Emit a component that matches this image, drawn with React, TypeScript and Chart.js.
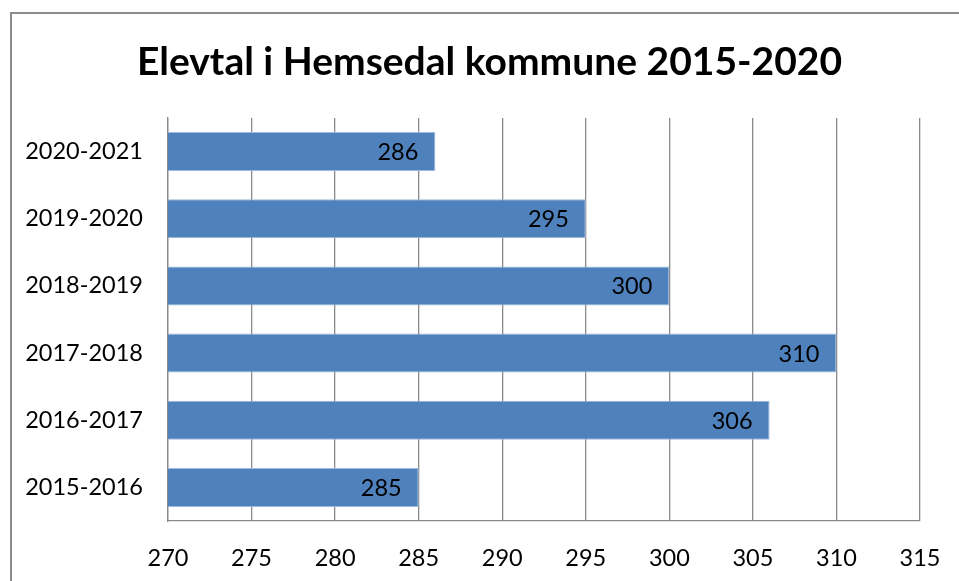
import React, { useEffect, useRef } from "react";
import { Chart, registerables } from "chart.js";

Chart.register(...registerables);

const categories = ["2015-2016", "2016-2017", "2017-2018", "2018-2019", "2019-2020", "2020-2021"];
const values = [285, 306, 310, 300, 295, 286];
const xMin = 270;
const xMax = 315;
const xStep = 5;
const titleText = "Elevtal i Hemsedal kommune 2015-2020";

const FONT = "Lato, 'Open Sans', sans-serif";

export default function App() {
  const ref = useRef<HTMLCanvasElement | null>(null);

  useEffect(() => {
    const canvas = ref.current;
    if (!canvas) return;

    const titlePlugin = {
      id: "customTitle",
      afterDraw(chart: any) {
        const ctx = chart.ctx;
        ctx.save();
        ctx.font = `bold 39px ${FONT}`;
        ctx.fillStyle = "#000";
        ctx.textAlign = "center";
        ctx.textBaseline = "alphabetic";
        ctx.fillText(titleText, 489.5, 75);
        ctx.restore();
      },
    };

    const labelPlugin = {
      id: "barLabels",
      afterDatasetsDraw(chart: any) {
        const ctx = chart.ctx;
        const meta = chart.getDatasetMeta(0);
        ctx.save();
        ctx.font = `23.5px ${FONT}`;
        ctx.fillStyle = "#000";
        ctx.textAlign = "right";
        ctx.textBaseline = "middle";
        meta.data.forEach((bar: any, i: number) => {
          ctx.fillText(String(values[i]), bar.x - 17, bar.y + 1);
        });
        ctx.restore();
      },
    };

    const chart = new Chart(canvas, {
      type: "bar",
      data: {
        labels: categories,
        datasets: [
          {
            data: values,
            backgroundColor: "#4F81BD",
            borderColor: "#9DB7DD",
            borderWidth: 1,
            borderSkipped: false,
            barPercentage: 0.58,
            categoryPercentage: 1,
          },
        ],
      },
      options: {
        indexAxis: "y",
        animation: false,
        responsive: false,
        devicePixelRatio: 1,
        layout: { padding: { top: 118, left: 0, right: 39, bottom: 0 } },
        plugins: {
          legend: { display: false },
          tooltip: { enabled: false },
          title: { display: false },
        },
        scales: {
          x: {
            type: "linear",
            min: xMin,
            max: xMax,
            ticks: {
              stepSize: xStep,
              padding: 23,
              color: "#000",
              font: { family: FONT, size: 23.5 },
            },
            grid: {
              color: "#8a8a8a",
              lineWidth: 1.3,
              drawTicks: false,
            },
            border: { display: true, color: "#8a8a8a", width: 1.3 },
            afterFit(scale: any) {
              scale.height = 60;
              scale.paddingLeft = 0;
              scale.paddingRight = 0;
            },
          },
          y: {
            type: "category",
            reverse: true,
            ticks: {
              padding: 25,
              color: "#000",
              font: { family: FONT, size: 23.5 },
            },
            grid: { display: false, drawTicks: false },
            border: { display: true, color: "#8a8a8a", width: 1.3 },
            afterFit(scale: any) {
              scale.width = 168;
              scale.paddingTop = 0;
              scale.paddingBottom = 0;
            },
          },
        },
      },
      plugins: [titlePlugin, labelPlugin],
    } as any);

    return () => chart.destroy();
  }, []);

  return (
    <div
      style={{
        position: "absolute",
        left: 0,
        top: 0,
        width: 959,
        height: 581,
        overflow: "hidden",
        background: "#fff",
      }}
    >
      <div
        style={{
          position: "absolute",
          left: 10,
          top: 12,
          width: 2000,
          height: 2000,
          borderLeft: "2px solid #8c8c8c",
          borderTop: "2px solid #8c8c8c",
        }}
      />
      <canvas
        ref={ref}
        width={959}
        height={581}
        style={{ position: "absolute", left: 0, top: 0, width: 959, height: 581 }}
      />
    </div>
  );
}
